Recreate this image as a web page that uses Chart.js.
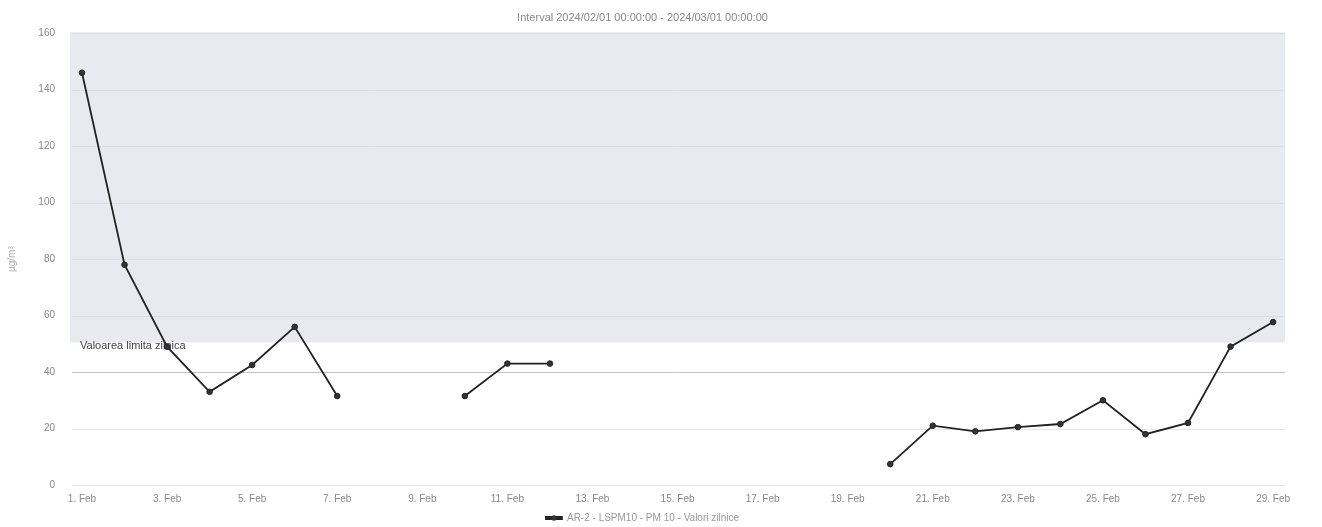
<!DOCTYPE html>
<html>
<head>
<meta charset="utf-8">
<script src="https://cdn.jsdelivr.net/npm/chart.js@4.4.1/dist/chart.umd.min.js"></script>
<style>
  html, body { margin: 0; padding: 0; background: #ffffff; }
  #wrap { width: 1322px; height: 527px; position: relative; }
</style>
</head>
<body>
<div id="wrap"><canvas id="c" width="1322" height="527"></canvas></div>
<script>
// ---- data ----
const days = [1,2,3,4,5,6,7,8,9,10,11,12,13,14,15,16,17,18,19,20,21,22,23,24,25,26,27,28,29];
const pm10 = [146,78,49,33,42.5,56,31.5,null,null,31.5,43,43,null,null,null,null,null,null,null,7.4,21,19,20.5,21.6,30,18,22,49,57.7];
const tickDays = [1,3,5,7,9,11,13,15,17,19,21,23,25,27,29];
const monthLabel = 'Feb';
const yTicks = [0,20,40,60,80,100,120,140,160];
const seriesName = 'AR-2 - LSPM10 - PM 10 - Valori zilnice';
const chartTitle = 'Interval 2024/02/01 00:00:00 - 2024/03/01 00:00:00';
const limitLabel = 'Valoarea limita zilnica';
const limitLineValue = 40;
const shadeFrom = 50.5;
const shadeTo = 160;

const points = days.map((d, i) => ({ x: d, y: pm10[i] }));

const decor = {
  id: 'decor',
  beforeDatasetsDraw(chart) {
    const { ctx, chartArea, scales } = chart;
    const y = scales.y;
    ctx.save();
    ctx.fillStyle = '#e9eaef';
    const top = y.getPixelForValue(shadeTo);
    const bot = y.getPixelForValue(shadeFrom);
    ctx.fillRect(chartArea.left - 2, top - 1, chartArea.right - chartArea.left + 2, bot - top + 1);
    ctx.strokeStyle = 'rgba(210,210,215,0.55)';
    ctx.lineWidth = 1;
    yTicks.forEach(v => {
      const py = Math.round(y.getPixelForValue(v)) + 0.5;
      ctx.beginPath(); ctx.moveTo(chartArea.left, py); ctx.lineTo(chartArea.right, py); ctx.stroke();
    });
    const ly = Math.round(y.getPixelForValue(limitLineValue)) + 0.5;
    ctx.strokeStyle = '#c2c4c8';
    ctx.beginPath(); ctx.moveTo(chartArea.left, ly); ctx.lineTo(chartArea.right, ly); ctx.stroke();
    ctx.fillStyle = '#444';
    ctx.font = '11px "Liberation Sans", Arial, sans-serif';
    ctx.textBaseline = 'middle';
    ctx.fillText(limitLabel, chartArea.left + 8, ly - 27);
    ctx.restore();
  },
  afterDraw(chart) {
    const lg = chart.legend;
    if (!lg || !lg.legendHitBoxes || !lg.legendHitBoxes.length) return;
    const hb = lg.legendHitBoxes[0];
    const ctx = chart.ctx;
    ctx.save();
    ctx.fillStyle = '#333';
    ctx.beginPath();
    ctx.arc(hb.left + 8, hb.top + hb.height / 2, 2.8, 0, Math.PI * 2);
    ctx.fill();
    ctx.restore();
  }
};

new Chart(document.getElementById('c'), {
  type: 'line',
  data: {
    datasets: [{
      label: seriesName,
      data: points,
      borderColor: '#222',
      backgroundColor: '#333',
      borderWidth: 1.8,
      pointRadius: 2.8,
      pointBackgroundColor: '#333',
      pointBorderColor: '#222',
      pointBorderWidth: 1,
      spanGaps: false,
      tension: 0
    }]
  },
  options: {
    responsive: false,
    animation: false,
    layout: { padding: { left: 0, right: 37, top: 0, bottom: -6 } },
    plugins: {
      title: {
        display: true,
        text: chartTitle,
        color: '#888',
        font: { family: '"Liberation Sans", Arial, sans-serif', size: 11, weight: 'normal' },
        padding: { top: 11, bottom: 9 }
      },
      legend: {
        position: 'bottom',
        labels: {
          color: '#999',
          font: { family: '"Liberation Sans", Arial, sans-serif', size: 10 },
          boxWidth: 16,
          boxHeight: 2,
          padding: 4
        }
      },
      tooltip: { enabled: false }
    },
    scales: {
      x: {
        type: 'linear',
        min: 0.765,
        max: 29.28,
        afterBuildTicks(scale) { scale.ticks = tickDays.map(v => ({ value: v })); },
        afterFit(scale) { scale.height = 24; },
        grid: { display: false },
        border: { display: false },
        ticks: {
          color: '#888',
          font: { family: '"Liberation Sans", Arial, sans-serif', size: 10 },
          padding: 0,
          maxRotation: 0,
          autoSkip: false,
          callback: v => v + '. ' + monthLabel
        }
      },
      y: {
        min: 0,
        max: 160,
        afterBuildTicks(scale) { scale.ticks = yTicks.map(v => ({ value: v })); },
        afterFit(scale) { scale.width = 72; },
        grid: { display: false },
        border: { display: false },
        title: {
          display: true,
          text: 'µg/m³',
          color: '#aaa',
          font: { family: '"Liberation Sans", Arial, sans-serif', size: 10 },
          padding: { top: 6, bottom: 14 }
        },
        ticks: {
          color: '#888',
          font: { family: '"Liberation Sans", Arial, sans-serif', size: 10 },
          padding: 9
        }
      }
    }
  },
  plugins: [decor]
});
</script>
</body>
</html>
